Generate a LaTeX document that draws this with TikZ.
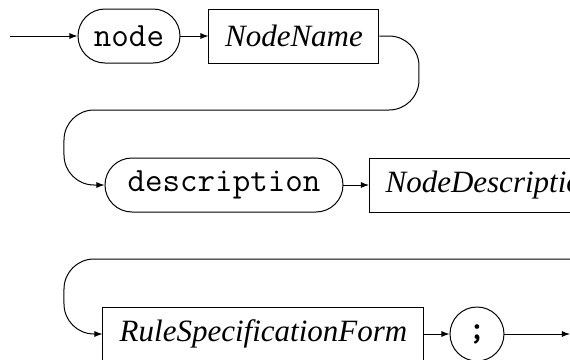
\documentclass[tikz,border=0pt]{standalone}
\usepackage{fontspec}
\setmainfont{Liberation Serif}
\usetikzlibrary{arrows.meta}

\tikzset{
  keyword/.style={draw, line width=0.5pt, rounded corners=13.5pt, minimum height=27pt, inner sep=0pt, font=\fontsize{17pt}{20pt}\selectfont\ttfamily},
  nonterm/.style={draw, line width=0.5pt, rectangle, minimum height=27pt, inner sep=0pt, font=\fontsize{15.5pt}{18pt}\selectfont\itshape},
  term/.style={draw, line width=0.5pt, circle, minimum size=27pt, inner sep=0pt, font=\fontsize{17pt}{20pt}\selectfont\ttfamily\bfseries},
  rail/.style={line width=0.5pt, rounded corners=15pt},
  arr/.style={rail, -{Latex[length=4pt,width=3pt]}},
}

\begin{document}
\begin{tikzpicture}[x=0.5pt, y=-0.5pt]
  \useasboundingbox (0,0) rectangle (570,360);
  \clip (0,0) rectangle (570,360);
            \coordinate (start) at (10,36);                                          % entry of the rule
            \node [keyword, minimum width=51pt] (kwnode) at (129,36) {node};          % first keyword
            \node [nonterm, minimum width=85pt] (nodename) at (294,36) {NodeName};    % node name
            \node [keyword, minimum width=119pt] (kwdesc) at (224,185) {description}; % second keyword
            \node [nonterm, minimum width=122pt, anchor=west] (nodedesc) at (369,185) {NodeDescription};
            \node [nonterm, minimum width=160.5pt] (rulespec) at (263.5,334) {RuleSpecificationForm};
            \node [term] (semi) at (477,334) {;};                                    % terminator
            \coordinate (stop) at (570,334);                                         % exit of the rule
            \draw [arr] (start) -- (kwnode);
            \draw [arr] (kwnode) -- (nodename);
            \draw [arr] (nodename.east) -- (419,36) -- (419,110) -- (64,110) -- (64,185) -- (kwdesc.west);   % wrap to row 2
            \draw [arr] (kwdesc) -- (nodedesc);
            \draw [arr] (nodedesc.east) -- (650,185) -- (650,259) -- (64,259) -- (64,334) -- (rulespec.west); % wrap to row 3
            \draw [arr] (rulespec) -- (semi);
            \draw [arr] (semi) -- (stop);
\end{tikzpicture}
\end{document}
